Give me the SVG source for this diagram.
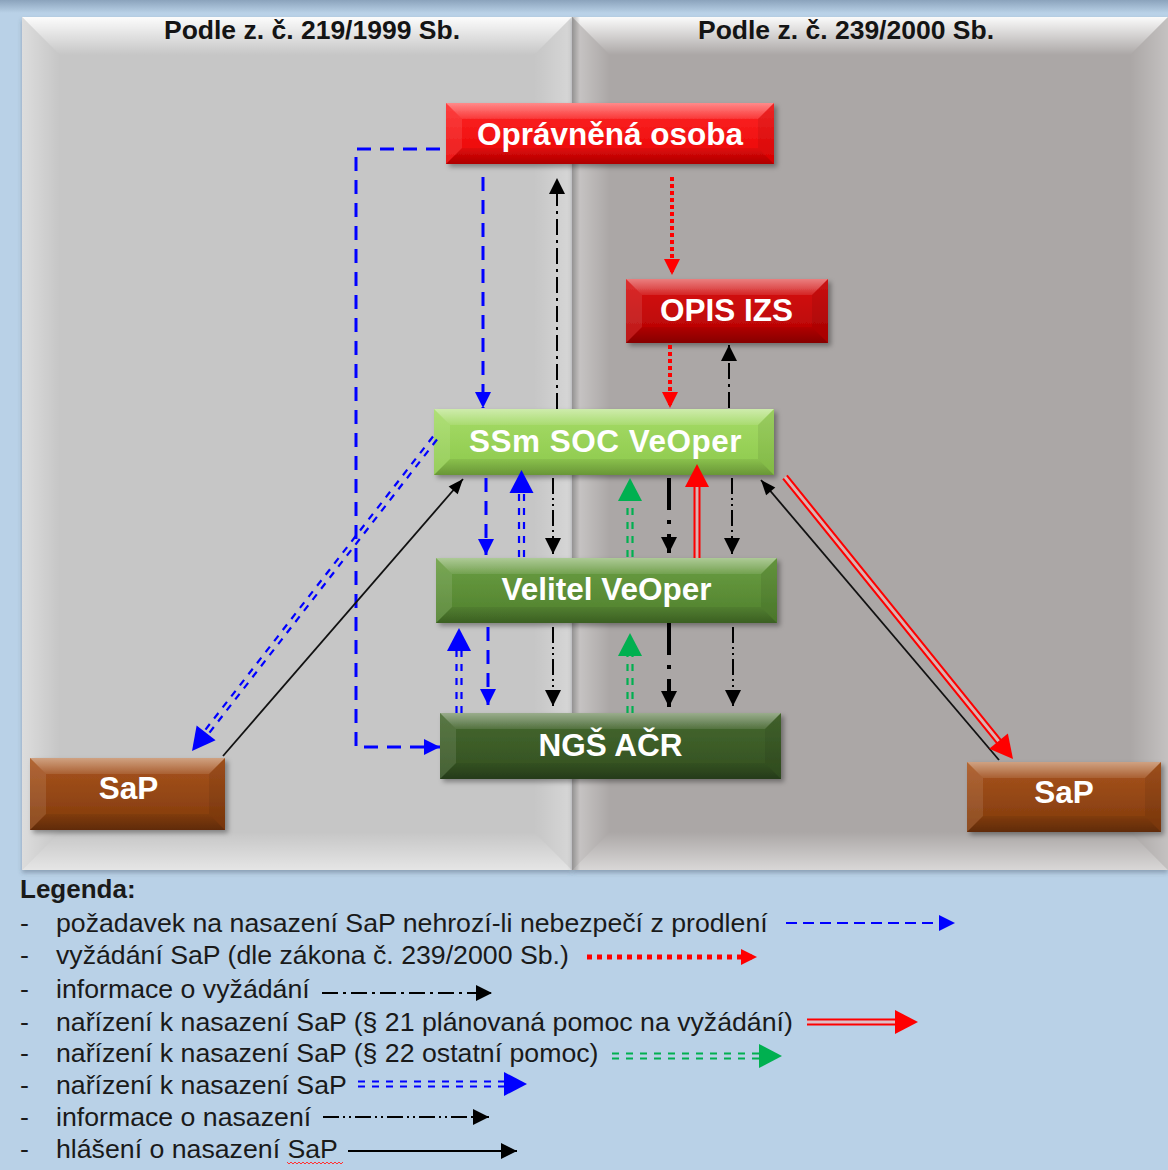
<svg xmlns="http://www.w3.org/2000/svg" width="1168" height="1170" viewBox="0 0 1168 1170">
<defs>
<style>
.ttl{font-family:"Liberation Sans",Arial,sans-serif;font-weight:bold;font-size:26.5px;fill:#141414;text-anchor:middle}
.nt{font-family:"Liberation Sans",Arial,sans-serif;font-weight:bold;font-size:31.5px;fill:#fff;text-anchor:middle}
.lg{font-family:"Liberation Sans",Arial,sans-serif;font-size:26.7px;fill:#1a1a1a}
.lgh{font-family:"Liberation Sans",Arial,sans-serif;font-weight:bold;font-size:26px;fill:#1a1a1a}
.bt{fill:url(#nTop)}
.bl{fill:#fff;fill-opacity:.1}
.br{fill:#000;fill-opacity:.07}
.bb{fill:url(#nBot)}
.bd{fill:none;stroke:#0000ff;stroke-width:3;stroke-dasharray:14 9}
.rd{fill:none;stroke:#ff0000;stroke-width:4;stroke-dasharray:4 3}
.kdo{fill:none;stroke:#000;stroke-width:2;stroke-dasharray:16 5 3 5}
.kdd{fill:none;stroke:#000;stroke-width:2;stroke-dasharray:16 4 2 4 2 4}
.kt{fill:none;stroke:#000;stroke-width:4;stroke-dasharray:32 10 4 10}
.ks{fill:none;stroke:#111;stroke-width:1.8}
.bdd{fill:none;stroke:#0000ff;stroke-width:2.2;stroke-dasharray:7 7}
.gdd{fill:none;stroke:#00b050;stroke-width:2.2;stroke-dasharray:7 7}
.rdl{fill:none;stroke:#ff0000;stroke-width:2}
.rin{fill:none;stroke:#f2b6b6;stroke-width:3;stroke-opacity:.7}
.mk{fill:none;stroke:none}
</style>
<linearGradient id="bgTop" x1="0" y1="0" x2="0" y2="1"><stop offset="0" stop-color="#8ba3bc"/><stop offset="1" stop-color="#b9d1e7"/></linearGradient>
<linearGradient id="pTop" x1="0" y1="0" x2="0" y2="1"><stop offset="0" stop-color="#fff" stop-opacity=".95"/><stop offset="1" stop-color="#fff" stop-opacity="0"/></linearGradient>
<linearGradient id="pLeft" x1="0" y1="0" x2="1" y2="0"><stop offset="0" stop-color="#fff" stop-opacity=".4"/><stop offset="1" stop-color="#fff" stop-opacity="0"/></linearGradient>
<linearGradient id="pRight" x1="1" y1="0" x2="0" y2="0"><stop offset="0" stop-color="#fff" stop-opacity=".3"/><stop offset="1" stop-color="#fff" stop-opacity="0"/></linearGradient>
<linearGradient id="pBot" x1="0" y1="1" x2="0" y2="0"><stop offset="0" stop-color="#fff" stop-opacity=".55"/><stop offset="1" stop-color="#fff" stop-opacity="0"/></linearGradient>
<linearGradient id="pShade" x1="0" y1="0" x2="1" y2="0"><stop offset="0" stop-color="#000" stop-opacity=".28"/><stop offset="1" stop-color="#000" stop-opacity="0"/></linearGradient>
<linearGradient id="nTop" x1="0" y1="0" x2="0" y2="1"><stop offset="0" stop-color="#fff" stop-opacity=".45"/><stop offset="1" stop-color="#fff" stop-opacity=".1"/></linearGradient>
<linearGradient id="nBot" x1="0" y1="0" x2="0" y2="1"><stop offset="0" stop-color="#000" stop-opacity=".06"/><stop offset="1" stop-color="#000" stop-opacity=".25"/></linearGradient>
<linearGradient id="gRed" x1="0" y1="0" x2="0" y2="1"><stop offset="0" stop-color="#ff2a2a"/><stop offset="1" stop-color="#e80000"/></linearGradient>
<linearGradient id="gDRed" x1="0" y1="0" x2="0" y2="1"><stop offset="0" stop-color="#d91515"/><stop offset="1" stop-color="#b30000"/></linearGradient>
<linearGradient id="gLGreen" x1="0" y1="0" x2="0" y2="1"><stop offset="0" stop-color="#a6dc68"/><stop offset="1" stop-color="#8cc84a"/></linearGradient>
<linearGradient id="gMGreen" x1="0" y1="0" x2="0" y2="1"><stop offset="0" stop-color="#6b9f42"/><stop offset="1" stop-color="#4f7f2d"/></linearGradient>
<linearGradient id="gDGreen" x1="0" y1="0" x2="0" y2="1"><stop offset="0" stop-color="#46692f"/><stop offset="1" stop-color="#324f20"/></linearGradient>
<linearGradient id="gBrown" x1="0" y1="0" x2="0" y2="1"><stop offset="0" stop-color="#a9551f"/><stop offset="1" stop-color="#80390b"/></linearGradient>
<filter id="sh" x="-10%" y="-20%" width="125%" height="150%"><feDropShadow dx="3" dy="3" stdDeviation="2.5" flood-color="#000" flood-opacity=".35"/></filter>
<filter id="psh" x="-5%" y="-5%" width="110%" height="110%"><feDropShadow dx="0" dy="3" stdDeviation="2" flood-color="#3a4a5a" flood-opacity=".35"/></filter>
<marker id="aBlueS" markerUnits="userSpaceOnUse" markerWidth="16" markerHeight="16" refX="16" refY="8" orient="auto" overflow="visible"><path d="M0,0 L16,8 L0,16 z" fill="#0000ff"/></marker>
<marker id="aBlackS" markerUnits="userSpaceOnUse" markerWidth="16" markerHeight="16" refX="16" refY="8" orient="auto" overflow="visible"><path d="M0,0 L16,8 L0,16 z" fill="#000"/></marker>
<marker id="aRedS" markerUnits="userSpaceOnUse" markerWidth="16" markerHeight="16" refX="16" refY="8" orient="auto" overflow="visible"><path d="M0,0 L16,8 L0,16 z" fill="#ff0000"/></marker>
<marker id="aBlackT" markerUnits="userSpaceOnUse" markerWidth="15" markerHeight="12" refX="15" refY="6" orient="auto" overflow="visible"><path d="M0,0 L15,6 L0,12 z" fill="#000"/></marker>
<marker id="aBlueB" markerUnits="userSpaceOnUse" markerWidth="24" markerHeight="24" refX="23" refY="12" orient="auto" overflow="visible"><path d="M0,0 L23,12 L0,24 z" fill="#0000ff"/></marker>
<marker id="aGreenB" markerUnits="userSpaceOnUse" markerWidth="24" markerHeight="24" refX="23" refY="12" orient="auto" overflow="visible"><path d="M0,0 L23,12 L0,24 z" fill="#00b050"/></marker>
<marker id="aRedB" markerUnits="userSpaceOnUse" markerWidth="24" markerHeight="24" refX="23" refY="12" orient="auto" overflow="visible"><path d="M0,0 L23,12 L0,24 z" fill="#ff0000"/></marker>
</defs>

<!-- background -->
<rect x="0" y="0" width="1168" height="1170" fill="#b9d1e7"/>
<rect x="0" y="0" width="1168" height="13" fill="url(#bgTop)"/>

<!-- panels -->
<g id="panel-left" filter="url(#psh)">
  <rect x="22" y="17" width="550" height="853" fill="#c6c6c6"/>
  <polygon points="22,17 572,17 534,55 60,55" fill="url(#pTop)"/>
  <polygon points="22,17 60,55 60,832 22,870" fill="url(#pLeft)"/>
  <polygon points="572,17 572,870 534,832 534,55" fill="url(#pRight)"/>
  <polygon points="22,870 572,870 534,832 60,832" fill="url(#pBot)"/>
</g>
<g id="panel-right" filter="url(#psh)">
  <rect x="572" y="17" width="596" height="853" fill="#aba7a6"/>
  <polygon points="572,17 1168,17 1130,55 610,55" fill="url(#pTop)"/>
  <polygon points="572,17 610,55 610,832 572,870" fill="url(#pLeft)"/>
  <polygon points="1168,17 1168,870 1130,832 1130,55" fill="url(#pRight)"/>
  <polygon points="572,870 1168,870 1130,832 610,832" fill="url(#pBot)"/>
  <rect x="572" y="17" width="8" height="853" fill="url(#pShade)"/>
</g>
<text class="ttl" x="312" y="39">Podle z. č. 219/1999 Sb.</text>
<text class="ttl" x="846" y="39">Podle z. č. 239/2000 Sb.</text>

<!-- nodes -->
<g id="node-opravnena-osoba" transform="translate(446,103)">
  <rect width="328" height="61" fill="url(#gRed)" filter="url(#sh)"/>
  <polygon class="bt" points="0,0 328,0 312,16 16,16"/>
  <polygon class="bl" points="0,0 16,16 16,45 0,61"/>
  <polygon class="br" points="328,0 328,61 312,45 312,16"/>
  <polygon class="bb" points="0,61 328,61 312,45 16,45"/>
  <text class="nt" x="164" y="42">Oprávněná osoba</text>
</g>
<g id="node-opis-izs" transform="translate(626,279)">
  <rect width="202" height="64" fill="url(#gDRed)" filter="url(#sh)"/>
  <polygon class="bt" points="0,0 202,0 186,16 16,16"/>
  <polygon class="bl" points="0,0 16,16 16,48 0,64"/>
  <polygon class="br" points="202,0 202,64 186,48 186,16"/>
  <polygon class="bb" points="0,64 202,64 186,48 16,48"/>
  <text class="nt" x="100.5" y="42">OPIS IZS</text>
</g>
<g id="node-ssm-soc-veoper" transform="translate(434,409)">
  <rect width="340" height="66" fill="url(#gLGreen)" filter="url(#sh)"/>
  <polygon class="bt" points="0,0 340,0 324,16 16,16"/>
  <polygon class="bl" points="0,0 16,16 16,50 0,66"/>
  <polygon class="br" points="340,0 340,66 324,50 324,16"/>
  <polygon class="bb" points="0,66 340,66 324,50 16,50"/>
  <text class="nt" x="171.5" y="43" letter-spacing="0.5">SSm SOC VeOper</text>
</g>
<g id="node-velitel-veoper" transform="translate(436,558)">
  <rect width="341" height="65" fill="url(#gMGreen)" filter="url(#sh)"/>
  <polygon class="bt" points="0,0 341,0 325,16 16,16"/>
  <polygon class="bl" points="0,0 16,16 16,49 0,65"/>
  <polygon class="br" points="341,0 341,65 325,49 325,16"/>
  <polygon class="bb" points="0,65 341,65 325,49 16,49"/>
  <text class="nt" x="170.5" y="42">Velitel VeOper</text>
</g>
<g id="node-ngs-acr" transform="translate(440,713)">
  <rect width="341" height="66" fill="url(#gDGreen)" filter="url(#sh)"/>
  <polygon class="bt" points="0,0 341,0 325,16 16,16"/>
  <polygon class="bl" points="0,0 16,16 16,50 0,66"/>
  <polygon class="br" points="341,0 341,66 325,50 325,16"/>
  <polygon class="bb" points="0,66 341,66 325,50 16,50"/>
  <text class="nt" x="170.5" y="43">NGŠ AČR</text>
</g>
<g id="node-sap-left" transform="translate(30,758)">
  <rect width="195" height="72" fill="url(#gBrown)" filter="url(#sh)"/>
  <polygon class="bt" points="0,0 195,0 179,16 16,16"/>
  <polygon class="bl" points="0,0 16,16 16,56 0,72"/>
  <polygon class="br" points="195,0 195,72 179,56 179,16"/>
  <polygon class="bb" points="0,72 195,72 179,56 16,56"/>
  <text class="nt" x="98.5" y="41" font-size="30">SaP</text>
</g>
<g id="node-sap-right" transform="translate(967,762)">
  <rect width="194" height="70" fill="url(#gBrown)" filter="url(#sh)"/>
  <polygon class="bt" points="0,0 194,0 178,16 16,16"/>
  <polygon class="bl" points="0,0 16,16 16,54 0,70"/>
  <polygon class="br" points="194,0 194,70 178,54 178,16"/>
  <polygon class="bb" points="0,70 194,70 178,54 16,54"/>
  <text class="nt" x="97" y="41" font-size="30">SaP</text>
</g>

<!-- connectors -->
<g id="connectors">
  <!-- upper part -->
  <path class="bd" d="M440,149 H356 V747 H440" marker-end="url(#aBlueS)"/>
  <path class="bd" d="M483,177 V408" marker-end="url(#aBlueS)"/>
  <path class="kdo" d="M557,409 V178" marker-end="url(#aBlackS)"/>
  <path class="rd" d="M672,177 V275" marker-end="url(#aRedS)"/>
  <path class="rd" d="M670,345 V408" marker-end="url(#aRedS)"/>
  <path class="kdo" d="M729,408 V345" marker-end="url(#aBlackS)"/>

  <!-- SSm <-> Velitel -->
  <path class="bd" d="M486,478 V555" marker-end="url(#aBlueS)"/>
  <path class="bdd" d="M519,557 V490 M524,557 V490"/>
  <path class="mk" d="M521.5,557 V470" marker-end="url(#aBlueB)"/>
  <path class="kdd" d="M553,478 V554" marker-end="url(#aBlackS)"/>
  <path class="gdd" d="M627.5,557 V498 M632.5,557 V498"/>
  <path class="mk" d="M630,557 V478" marker-end="url(#aGreenB)"/>
  <path class="kt" d="M669,478 V553" marker-end="url(#aBlackS)"/>
  <path class="rin" d="M697,558 V484"/>
  <path class="rdl" d="M694.5,558 V484 M699.5,558 V484"/>
  <path class="mk" d="M697,558 V464" marker-end="url(#aRedB)"/>
  <path class="kdd" d="M732,478 V554" marker-end="url(#aBlackS)"/>

  <!-- Velitel <-> NGS -->
  <path class="bdd" d="M456.5,713 V648 M461.5,713 V648"/>
  <path class="mk" d="M459,713 V628" marker-end="url(#aBlueB)"/>
  <path class="bd" d="M488,627 V705" marker-end="url(#aBlueS)"/>
  <path class="kdd" d="M553,627 V706" marker-end="url(#aBlackS)"/>
  <path class="gdd" d="M627.5,713 V653 M632.5,713 V653"/>
  <path class="mk" d="M630,713 V633" marker-end="url(#aGreenB)"/>
  <path class="kt" d="M669,623 V707" marker-end="url(#aBlackS)"/>
  <path class="kdd" d="M733,627 V706" marker-end="url(#aBlackS)"/>

  <!-- diagonals -->
  <path class="bdd" d="M437,439.5 L206.3,736.7 M433,436.5 L202.3,733.7"/>
  <path class="mk" d="M435,438 L192,751" marker-end="url(#aBlueB)"/>
  <path class="ks" d="M223,756 L463,479" marker-end="url(#aBlackT)"/>
  <path class="ks" d="M999,760 L761,480" marker-end="url(#aBlackT)"/>
  <path class="rin" d="M785,477 L1001.7,745"/>
  <path class="rdl" d="M786.9,475.4 L1003.6,743.4 M783.1,478.6 L999.8,746.6"/>
  <path class="mk" d="M785,477 L1013,759" marker-end="url(#aRedB)"/>
</g>

<!-- legend -->
<g id="legend">
  <text class="lgh" x="20" y="898">Legenda:</text>
  <text class="lg" x="20" y="932">-</text>
  <text class="lg" x="56" y="932">požadavek na nasazení SaP nehrozí-li nebezpečí z prodlení</text>
  <text class="lg" x="20" y="964">-</text>
  <text class="lg" x="56" y="964">vyžádání SaP (dle zákona č. 239/2000 Sb.)</text>
  <text class="lg" x="20" y="998">-</text>
  <text class="lg" x="56" y="998">informace o vyžádání</text>
  <text class="lg" x="20" y="1031">-</text>
  <text class="lg" x="56" y="1031">nařízení k nasazení SaP (§ 21 plánovaná pomoc na vyžádání)</text>
  <text class="lg" x="20" y="1062">-</text>
  <text class="lg" x="56" y="1062">nařízení k nasazení SaP (§ 22 ostatní pomoc)</text>
  <text class="lg" x="20" y="1094">-</text>
  <text class="lg" x="56" y="1094">nařízení k nasazení SaP</text>
  <text class="lg" x="20" y="1126">-</text>
  <text class="lg" x="56" y="1126">informace o nasazení</text>
  <text class="lg" x="20" y="1158">-</text>
  <text class="lg" x="56" y="1158">hlášení o nasazení SaP</text>
  <path d="M287,1162 l2,2 l2,-2 l2,2 l2,-2 l2,2 l2,-2 l2,2 l2,-2 l2,2 l2,-2 l2,2 l2,-2 l2,2 l2,-2 l2,2 l2,-2 l2,2 l2,-2 l2,2 l2,-2 l2,2 l2,-2 l2,2 l2,-2 l2,2 l2,-2 l2,2 l2,-2" fill="none" stroke="#ff3030" stroke-width="1"/>

  <path d="M786,923 H955" fill="none" stroke="#0000ff" stroke-width="2" stroke-dasharray="11 6" marker-end="url(#aBlueS)"/>
  <path d="M587,957 H757" fill="none" stroke="#ff0000" stroke-width="5" stroke-dasharray="5 5" marker-end="url(#aRedS)"/>
  <path class="kdo" d="M322,993 H492" marker-end="url(#aBlackS)"/>
  <path class="rin" d="M807,1022 H900"/>
  <path class="rdl" d="M807,1019.5 H900 M807,1024.5 H900"/>
  <path class="mk" d="M807,1022 H918" marker-end="url(#aRedB)"/>
  <path class="gdd" d="M612,1053.5 H762 M612,1058.5 H762"/>
  <path class="mk" d="M612,1056 H782" marker-end="url(#aGreenB)"/>
  <path class="bdd" d="M358,1081.5 H507 M358,1086.5 H507"/>
  <path class="mk" d="M358,1084 H527" marker-end="url(#aBlueB)"/>
  <path class="kdd" d="M323,1117 H489" marker-end="url(#aBlackS)"/>
  <path d="M348,1151 H517" fill="none" stroke="#000" stroke-width="2" marker-end="url(#aBlackS)"/>
</g>
</svg>
